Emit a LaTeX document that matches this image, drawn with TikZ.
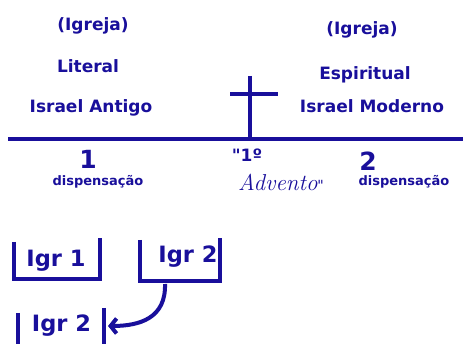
\documentclass[tikz,border=0pt]{standalone}
\usepackage{fontspec}
\setmainfont{DejaVu Sans}
\newfontfamily\quotefont{DejaVu Sans}
\newfontfamily\advfont{Latin Modern Roman}
\usetikzlibrary{arrows.meta}
\definecolor{igblue}{RGB}{25,15,155}

\begin{document}
\begin{tikzpicture}[
		x=1pt, y=-1pt,
		every node/.style={
			text=igblue,
			inner sep=0pt,
			align=center
		},
		heading/.style={font=\fontsize{17}{20}\selectfont\bfseries},
		numnode/.style={font=\fontsize{25}{28}\selectfont\bfseries},
		dispnode/.style={font=\fontsize{13}{15}\selectfont\bfseries},
		igrnode/.style={font=\fontsize{22.5}{26}\selectfont\bfseries},
		bar/.style={draw=igblue, line width=4pt},
		arrowbar/.style={bar, -{Straight Barb[length=6pt,width=15pt]}}
		]
		\useasboundingbox (0,0) rectangle (463,344);
		
		\node[heading] (igrejaA) at (93,25.5) {(Igreja)};
		\node[heading] (literal) at (88,66) {Literal};
		\node[heading] (antigo) at (91,108) {Israel Antigo};
		\node[heading] (igrejaB) at (362,29.5) {(Igreja)};
		\node[heading] (espiritual) at (365,74.5) {Espiritual};
		\node[heading] (moderno) at (372,106.5) {Israel Moderno};
		
		\node[numnode] (num1) at (88,159) {1};
		\node[dispnode] (disp1) at (98,182) {dispensação};
		\node[heading] (primeiro) at (247,155) {{\quotefont"}1º};
		\node[font=\fontsize{23}{26}\selectfont\advfont\itshape] (advento) at (281,182) {Advento{\quotefont\fontsize{14}{16}\selectfont\upshape"}};
		\node[numnode] (num2) at (368,161) {2};
		\node[dispnode] (disp2) at (404,182) {dispensação};
		
		\draw[bar] (8,139.5) -- (463,139.5);
		\draw[bar] (249.5,76) -- (249.5,139.5);
		\draw[bar] (230,94) -- (278,94);
		
		\node[igrnode] (igr1) at (56,261) {Igr 1};
		\node[igrnode] (igr2) at (188,257) {Igr 2};
		\node[igrnode] (igr2b) at (61.5,326) {Igr 2};
		
		\draw[bar] (14,242) |- (100,279) -- (100,238);
		\draw[bar] (139.5,240) |- (219.5,281) -- (219.5,238);
		\draw[bar] (17.5,313) -- (17.5,344);
		\draw[bar] (103.5,308) -- (103.5,344);
		
		\coordinate (igr2foot) at (165,284);
		\coordinate (igr2btip) at (108,326);
		\draw[arrowbar] (igr2foot) .. controls (166,318) and (140,326) .. (igr2btip);
	\end{tikzpicture}
\end{document}
